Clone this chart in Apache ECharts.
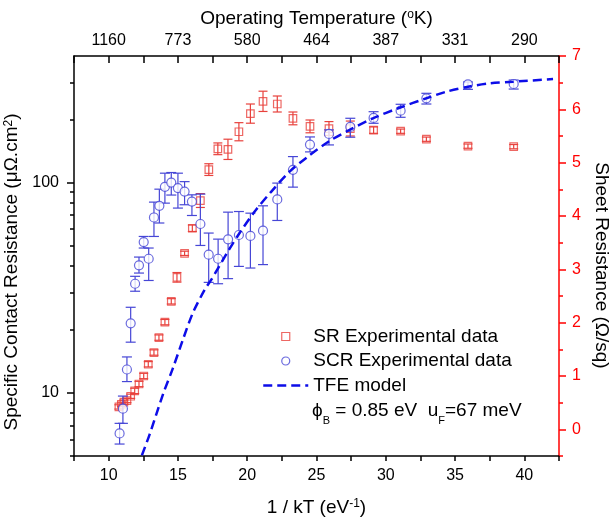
<!DOCTYPE html>
<html><head><meta charset="utf-8">
<script src="https://cdn.jsdelivr.net/npm/echarts@6/dist/echarts.min.js"></script>
<style>html,body{margin:0;padding:0;background:#fff}#c{width:609px;height:521px}</style>
</head><body><div id="c"></div>
<script>
// ---- tick labels ----
const xTickLabels = [10, 15, 20, 25, 30, 35, 40];
const topTickLabels = ['1160', '773', '580', '464', '387', '331', '290'];
const leftMajorTicks = [10, 100];
const leftMinorTicks = [5, 6, 7, 8, 9, 20, 30, 40, 50, 60, 70, 80, 90, 200, 300];
const rightTickLabels = [0, 1, 2, 3, 4, 5, 6, 7];
const rightMinorTicks = [-0.5, 0.5, 1.5, 2.5, 3.5, 4.5, 5.5, 6.5];

// ---- SCR (specific contact resistance, left log axis) ----
const scrX = [10.79, 11.03, 11.32, 11.59, 11.91, 12.19, 12.53, 12.89, 13.27, 13.66, 14.06, 14.52, 15.00, 15.48, 16.01, 16.62, 17.22, 17.90, 18.62, 19.40, 20.23, 21.14, 22.17, 23.30, 24.53, 25.90, 27.44, 29.12, 31.07, 32.93, 35.93, 39.23];
const scrY = [6.4, 8.4, 12.9, 21.4, 33.0, 40.4, 52.1, 43.4, 68.2, 77.5, 95.4, 100, 94.1, 90.6, 81.2, 63.5, 45.4, 43.4, 53.7, 56.3, 55.7, 59.0, 83.1, 114.9, 151.5, 170.3, 183.9, 202.9, 219.8, 251.7, 293.3, 294.3];
const scrLow = [5.7, 7.15, 11.3, 17.4, 30.4, 37.1, 48.8, 34.2, 55.4, 64.2, 79.8, 87.2, 75.6, 78.4, 69.7, 50.2, 33.5, 33.0, 34.9, 39.9, 39.2, 40.7, 66.0, 95.1, 139.9, 151, 164.3, 191.4, 204.4, 236.4, 277.6, 278.5];
const scrHigh = [7.15, 9.64, 14.8, 25.5, 35.8, 44.2, 55.4, 48.8, 80.7, 93.0, 110.8, 111.6, 110.8, 101, 87.4, 88.1, 57.5, 53.8, 72.3, 72.8, 71.5, 77.5, 99.4, 132.9, 164.8, 178, 202.2, 217.3, 235.7, 265.8, 300.8, 307.4];

// ---- SR (sheet resistance, right axis) ----
const srX = [10.74, 10.92, 11.10, 11.32, 11.59, 11.88, 12.19, 12.53, 12.86, 13.27, 13.63, 14.06, 14.52, 14.93, 15.48, 16.04, 16.62, 17.23, 17.88, 18.61, 19.40, 20.23, 21.14, 22.17, 23.30, 24.53, 25.90, 27.44, 29.12, 31.07, 32.93, 35.93, 39.23];
const srY = [0.42, 0.47, 0.51, 0.54, 0.62, 0.72, 0.85, 1.00, 1.22, 1.44, 1.72, 2.01, 2.40, 2.85, 3.30, 3.77, 4.29, 4.87, 5.26, 5.25, 5.58, 5.92, 6.15, 6.10, 5.83, 5.68, 5.64, 5.64, 5.61, 5.59, 5.44, 5.31, 5.30];
const srErr = [0.04, 0.04, 0.04, 0.04, 0.04, 0.05, 0.05, 0.05, 0.05, 0.05, 0.05, 0.05, 0.05, 0.09, 0.04, 0.06, 0.13, 0.11, 0.11, 0.19, 0.17, 0.18, 0.19, 0.15, 0.12, 0.12, 0.13, 0.14, 0.06, 0.04, 0.04, 0.04, 0.04];

// ---- TFE model curve ----
const tfeX = [12.40, 12.96, 13.92, 14.64, 15.36, 16.08, 16.93, 17.41, 18.61, 19.45, 20.54, 21.74, 23.06, 24.38, 25.95, 27.39, 29.07, 31.00, 32.93, 34.37, 35.93, 37.50, 39.18, 42.07];
const tfeY = [5.04, 6.34, 9.82, 13.1, 17.9, 24.0, 30.9, 34.5, 47.0, 57.5, 72.8, 90.6, 112.8, 132.9, 157.8, 178, 202.2, 227, 251.7, 270.5, 285.6, 296.5, 301.8, 310.8];

const L = Math.log10;
const RED = '#ff0000', SRC = '#e8413c', BLUE = '#4646d6', TFE = '#0d0de8';
const FONT = 'Liberation Sans, Arial, sans-serif';

function errRender(capHalf, color) {
  return function (params, api) {
    const x = api.value(0);
    const lo = api.coord([x, api.value(1)]);
    const hi = api.coord([x, api.value(2)]);
    const style = { stroke: color, lineWidth: 1.2, fill: null };
    return { type: 'group', children: [
      { type: 'line', shape: { x1: lo[0], y1: lo[1], x2: hi[0], y2: hi[1] }, style },
      { type: 'line', shape: { x1: lo[0] - capHalf, y1: lo[1], x2: lo[0] + capHalf, y2: lo[1] }, style },
      { type: 'line', shape: { x1: hi[0] - capHalf, y1: hi[1], x2: hi[0] + capHalf, y2: hi[1] }, style }
    ]};
  };
}

const blackLine = { show: true, onZero: false, lineStyle: { color: '#000', width: 1.5 } };
const labelBase = { color: '#000', fontSize: 16, fontFamily: FONT };
const nameBase = { color: '#000', fontSize: 19, fontFamily: FONT };
const supRich = { sup: { fontSize: 12, verticalAlign: 'top', lineHeight: 12, fontFamily: FONT, color: '#000' } };
const yMin = L(5), yMax = L(400);

const chart = echarts.init(document.getElementById('c'), null, { renderer: 'canvas' });
chart.setOption({
  animation: false,
  backgroundColor: '#fff',
  textStyle: { fontFamily: FONT },
  grid: { left: 74, right: 50, top: 56, bottom: 65, containLabel: false, outerBoundsMode: 'none' },
  title: {
    left: 312, top: 401.5, padding: 0,
    text: '{a|ϕ}{s|B}{a| = 0.85 eV  u}{s|F}{a|=67 meV}',
    textStyle: {
      fontWeight: 'normal',
      rich: {
        a: { fontSize: 19, fontFamily: FONT, color: '#000', fontWeight: 'normal', lineHeight: 25, verticalAlign: 'top' },
        s: { fontSize: 11, fontFamily: FONT, color: '#000', fontWeight: 'normal', verticalAlign: 'bottom' }
      }
    }
  },
  xAxis: [
    { type: 'value', position: 'bottom', min: 7.5, max: 42.5, interval: 2.5,
      axisLine: blackLine, splitLine: { show: false },
      axisTick: { inside: false, length: 5, lineStyle: { color: '#000', width: 1.5 } },
      axisLabel: Object.assign({ customValues: xTickLabels, margin: 12 }, labelBase),
      name: '1 / kT (eV{sup|-1})', nameLocation: 'middle', nameGap: 42,
      nameTextStyle: Object.assign({ rich: supRich }, nameBase) },
    { type: 'value', position: 'top', min: 7.5, max: 42.5, interval: 2.5,
      axisLine: blackLine, splitLine: { show: false },
      axisTick: { inside: true, length: 7, lineStyle: { color: '#000', width: 1.5 } },
      axisLabel: Object.assign({ customValues: xTickLabels, margin: 7,
        formatter: v => topTickLabels[xTickLabels.indexOf(v)] }, labelBase),
      name: 'Operating Temperature ({sup|o}K)', nameLocation: 'middle', nameGap: 27,
      nameTextStyle: Object.assign({ rich: supRich }, nameBase) }
  ],
  yAxis: [
    { type: 'value', position: 'left', min: yMin, max: yMax,
      axisLine: blackLine, splitLine: { show: false },
      axisTick: { customValues: leftMajorTicks.map(L), length: 7, lineStyle: { color: '#000', width: 1.5 } },
      axisLabel: Object.assign({ customValues: leftMajorTicks.map(L), margin: 15,
        formatter: v => String(Math.round(Math.pow(10, v))) }, labelBase),
      name: 'Specific Contact Resistance (μΩ.cm{sup|2})', nameLocation: 'middle', nameGap: 42, nameRotate: 90,
      nameTextStyle: Object.assign({ padding: [0, 32, 0, 0], rich: supRich }, nameBase) },
    { type: 'value', position: 'left', min: yMin, max: yMax,
      axisLine: { show: false, onZero: false }, splitLine: { show: false }, axisLabel: { show: false },
      axisTick: { customValues: leftMinorTicks.map(L), length: 4, lineStyle: { color: '#000', width: 1.5 } } },
    { type: 'value', position: 'right', min: -0.5, max: 7,
      axisLine: { show: true, onZero: false, lineStyle: { color: RED, width: 1.5 } }, splitLine: { show: false },
      axisTick: { customValues: rightTickLabels, length: 7, lineStyle: { color: RED, width: 1.5 } },
      axisLabel: { customValues: rightTickLabels, margin: 13, color: RED, fontSize: 16, fontFamily: FONT },
      name: 'Sheet Resistance (Ω/sq)', nameLocation: 'middle', nameGap: 32, nameRotate: -90,
      nameTextStyle: Object.assign({ padding: [0, 0, 0, 19] }, nameBase) },
    { type: 'value', position: 'right', min: -0.5, max: 7,
      axisLine: { show: false, onZero: false }, splitLine: { show: false }, axisLabel: { show: false },
      axisTick: { customValues: rightMinorTicks, length: 4, lineStyle: { color: RED, width: 1.5 } } }
  ],
  legend: {
    orient: 'vertical', left: 262, top: 327, padding: 0, itemGap: 5.5,
    itemWidth: 45, itemHeight: 8, selectedMode: false,
    textStyle: { color: '#000', fontSize: 19, fontFamily: FONT, lineHeight: 19 },
    itemStyle: { borderWidth: 1.2 }, lineStyle: { width: 2.5 },
    data: [
      { name: 'SR Experimental data', icon: 'path://M0,0H10V10H0Z' },
      { name: 'SCR Experimental data', icon: 'circle' },
      { name: 'TFE model', itemStyle: { color: 'rgba(0,0,0,0)', borderWidth: 0, opacity: 0 } }
    ]
  },
  series: [
    { name: 'SR error', type: 'custom', xAxisIndex: 0, yAxisIndex: 2, z: 2,
      renderItem: errRender(4.5, SRC), encode: { x: 0, y: [1, 2] },
      data: srX.map((x, i) => [x, srY[i] - srErr[i], srY[i] + srErr[i]]) },
    { name: 'SR Experimental data', type: 'scatter', xAxisIndex: 0, yAxisIndex: 2, z: 3,
      symbol: 'rect', symbolSize: 7.5,
      itemStyle: { color: 'rgba(255,255,255,0)', borderColor: SRC, borderWidth: 1.2 },
      data: srX.map((x, i) => [x, srY[i]]) },
    { name: 'SCR error', type: 'custom', xAxisIndex: 0, yAxisIndex: 0, z: 4,
      renderItem: errRender(5, BLUE), encode: { x: 0, y: [1, 2] },
      data: scrX.map((x, i) => [x, L(scrLow[i]), L(scrHigh[i])]) },
    { name: 'SCR Experimental data', type: 'scatter', xAxisIndex: 0, yAxisIndex: 0, z: 5,
      symbol: 'circle', symbolSize: 9,
      itemStyle: { color: '#fff', borderColor: BLUE, borderWidth: 1.2 },
      data: scrX.map((x, i) => [x, L(scrY[i])]) },
    { name: 'TFE model', type: 'line', xAxisIndex: 0, yAxisIndex: 0, z: 6,
      symbol: 'none', smooth: 0.3, clip: true,
      lineStyle: { color: TFE, width: 2.5, type: [9, 5] }, itemStyle: { color: TFE },
      data: tfeX.map((x, i) => [x, L(tfeY[i])]) }
  ]
});
</script></body></html>
